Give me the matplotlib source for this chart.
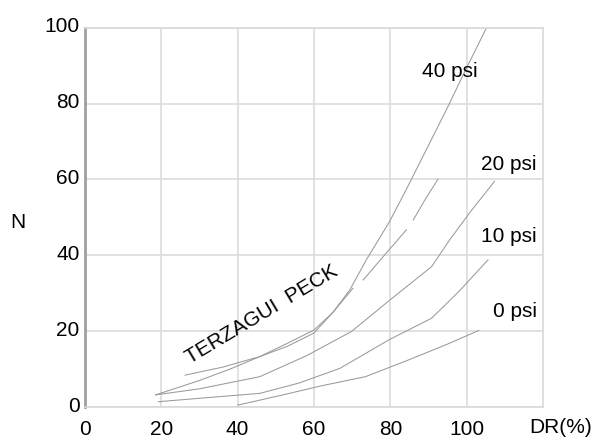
import numpy as np
import matplotlib
matplotlib.use('Agg')
import matplotlib.pyplot as plt
import matplotlib.transforms as mtransforms

plt.rcParams['font.family'] = ['Liberation Sans', 'DejaVu Sans']

# Curves: DR(%) -> N
dr_40 = [18.5, 30, 38, 45.8, 52, 60, 65, 69.4, 73.7, 79.8, 84, 89.4, 95, 99, 105.2]
n_40 = [3.2, 7.0, 10.0, 13.3, 16.3, 20.3, 25.0, 30.9, 38.8, 48.9, 57.0, 67.8, 79.0, 87.4, 100]

dr_20 = [18.5, 30, 45.8, 58, 69.8, 80, 90.8, 95.5, 101, 107.3]
n_20 = [3.2, 4.8, 8.0, 13.5, 19.9, 28.3, 37.0, 44.0, 51.5, 59.5]

dr_10 = [19.2, 30, 45.8, 56, 66.8, 79.8, 90.8, 98, 105.6]
n_10 = [1.4, 2.3, 3.6, 6.3, 10.2, 17.8, 23.4, 30.5, 38.8]

dr_0 = [40, 51, 62, 73.5, 85, 95, 103.2]
n_0 = [0.5, 3.0, 5.6, 8.0, 12.5, 16.6, 20.2]

# Terzagui-Peck curve, drawn in three pieces (nan = gap)
dr_tp = [26.2, 36, 45.8, 53, 60, 65, 70.2, np.nan, 72.9, 78, 84.2, np.nan, 86, 89, 92.5]
n_tp = [8.4, 10.5, 13.3, 16.0, 19.5, 25.0, 31.3, np.nan, 33.5, 39.5, 46.7, np.nan, 49.3, 54.5, 60.1]

x_ticks = [0, 20, 40, 60, 80, 100]
y_ticks = [0, 20, 40, 60, 80, 100]

fig = plt.figure(figsize=(6, 4.44), dpi=100)
ax = fig.add_axes([0.1417, 0.0833, 0.7633, 0.8543])

line_kw = dict(color='#9a9a9a', linewidth=0.75)
ax.plot(dr_40, n_40, **line_kw)
ax.plot(dr_20, n_20, **line_kw)
ax.plot(dr_10, n_10, **line_kw)
ax.plot(dr_0, n_0, **line_kw)
ax.plot(dr_tp, n_tp, **line_kw)

ax.set_xlim(0, 120)
ax.set_ylim(0, 100)
ax.set_xticks(x_ticks)
ax.set_yticks(y_ticks)
ax.grid(True, color='#dcdcdc', linewidth=1.2)
ax.set_axisbelow(True)
ax.tick_params(length=0, labelsize=15, colors='black')
ax.tick_params(axis='x', pad=9)
ax.tick_params(axis='y', pad=4)

# nudge y labels up a little, like the original
offset = mtransforms.ScaledTranslation(0, 3 / 100, fig.dpi_scale_trans)
for lab in ax.get_yticklabels():
    lab.set_transform(lab.get_transform() + offset)

for side in ['top', 'right', 'bottom']:
    ax.spines[side].set_color('#d9d9d9')
    ax.spines[side].set_linewidth(1.2)
ax.spines['left'].set_color('#a0a0a0')
ax.spines['left'].set_linewidth(2)

# curve labels
ax.text(102.9, 88.4, '40 psi', fontsize=15, ha='right', va='center')
ax.text(118.3, 63.9, '20 psi', fontsize=15, ha='right', va='center')
ax.text(118.3, 44.9, '10 psi', fontsize=15, ha='right', va='center')
ax.text(118.3, 25.1, '0 psi', fontsize=15, ha='right', va='center')
ax.text(46.3, 24.5, 'TERZAGUI  PECK', fontsize=15, rotation=31,
        ha='center', va='center', rotation_mode='anchor')

fig.text(0.03, 0.5, 'N', fontsize=15, ha='center', va='center')
fig.text(0.935, 0.038, 'DR(%)', fontsize=15, ha='center', va='center')

fig.savefig('out.png', dpi=100)
